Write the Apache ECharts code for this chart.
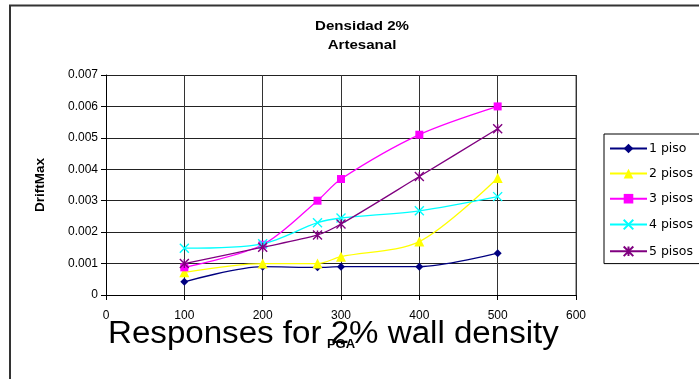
<!DOCTYPE html>
<html>
<head>
<meta charset="utf-8">
<script src="https://cdn.jsdelivr.net/npm/echarts@6/dist/echarts.min.js"></script>
<style>
  html, body { margin: 0; padding: 0; background: #fff; }
  #chart { width: 699px; height: 379px; }
</style>
</head>
<body>
<div id="chart"></div>
<script>
// PGA values on the horizontal axis
const pga = [100, 200, 270, 300, 400, 500];

// Maximum drift per number of storeys
const piso1 = [0.00042, 0.0009, 0.00088, 0.0009, 0.0009, 0.00133];
const pisos2 = [0.00072, 0.001, 0.001, 0.00122, 0.0017, 0.00372];
const pisos3 = [0.00088, 0.0016, 0.003, 0.00369, 0.0051, 0.006];
const pisos4 = [0.00149, 0.00163, 0.0023, 0.00245, 0.00268, 0.00313];
const pisos5 = [0.001, 0.00152, 0.00191, 0.00226, 0.00377, 0.00529];

const seriesNames = ['1 piso', '2 pisos', '3 pisos', '4 pisos', '5 pisos'];
const seriesValues = [piso1, pisos2, pisos3, pisos4, pisos5];
const seriesColors = ['#000080', '#FFFF00', '#FF00FF', '#00FFFF', '#800080'];

const titleLines = ['Densidad 2%', 'Artesanal'];
const captionText = 'Responses for 2% wall density';

const crossPath = 'path://M0,0L10,10M10,0L0,10';
const starPath = 'path://M0,0L10,10M10,0L0,10M5,0L5,10';
const seriesSymbols = ['diamond', 'triangle', 'rect', crossPath, starPath];
const seriesSymbolSizes = [8, 10, 8, 9, 9];

const font = 'Liberation Sans, Arial, sans-serif';

const chart = echarts.init(document.getElementById('chart'), null, { renderer: 'canvas' });

const series = seriesNames.map((name, i) => {
  const stroked = i >= 3;
  return {
    name: name,
    type: 'line',
    smooth: 0.3,
    data: pga.map((x, j) => [x, seriesValues[i][j]]),
    symbol: seriesSymbols[i],
    symbolSize: seriesSymbolSizes[i],
    showAllSymbol: true,
    lineStyle: { color: seriesColors[i], width: 1.3 },
    itemStyle: stroked
      ? { color: 'none', borderColor: seriesColors[i], borderWidth: 1.4 }
      : { color: seriesColors[i], borderColor: seriesColors[i], borderWidth: 0 },
    emphasis: { disabled: true },
    animation: false,
    z: 3 + i
  };
});

// Stretched bold text used for the two-line heading
function headingText(text, y) {
  return {
    type: 'text',
    x: 362,
    y: y,
    scaleX: 1.16,
    style: {
      text: text,
      x: 0,
      y: 0,
      align: 'center',
      verticalAlign: 'middle',
      font: 'bold 13px "Liberation Sans", Arial, sans-serif',
      fill: '#000'
    },
    silent: true
  };
}

chart.setOption({
  animation: false,
  textStyle: { fontFamily: font },
  legend: {
    orient: 'vertical',
    left: 604,
    top: 134,
    padding: [8, 20, 5, 5],
    itemWidth: 37,
    itemHeight: 12,
    itemGap: 12.1,
    borderColor: '#000',
    borderWidth: 1,
    backgroundColor: '#fff',
    textStyle: { fontSize: 12.5, lineHeight: 12, color: '#000', fontFamily: 'DejaVu Sans, sans-serif', padding: [0, 0, 0, -3] },
    data: seriesNames
  },
  grid: { left: 106, right: 123, top: 75, bottom: 84 },
  xAxis: {
    type: 'value',
    min: 0,
    max: 600,
    interval: 100,
    name: 'PGA',
    nameLocation: 'middle',
    nameGap: 43,
    nameTextStyle: { fontSize: 13, fontWeight: 'bold', color: '#000', fontFamily: font },
    axisLine: { lineStyle: { color: '#000', width: 1 } },
    axisTick: { show: true, length: 5, lineStyle: { color: '#000' } },
    axisLabel: { fontSize: 12, color: '#000', margin: 15, fontFamily: font },
    splitLine: { show: true, lineStyle: { color: '#333', width: 1 } }
  },
  yAxis: {
    type: 'value',
    min: 0,
    max: 0.007,
    interval: 0.001,
    name: 'DriftMax',
    nameLocation: 'middle',
    nameGap: 59,
    nameTextStyle: { fontSize: 13.5, fontWeight: 'bold', color: '#000', fontFamily: font },
    axisLine: { show: true, lineStyle: { color: '#000', width: 1 } },
    axisTick: { show: true, length: 5, lineStyle: { color: '#000' } },
    axisLabel: { fontSize: 12, color: '#000', margin: 8, fontFamily: font,
      formatter: v => (v === 0 ? '0' : v.toFixed(3)) },
    splitLine: { show: true, lineStyle: { color: '#222', width: 1 } }
  },
  graphic: [
    {
      type: 'polyline',
      shape: { points: [[10, 379], [10, 5.5], [699, 5.5]] },
      style: { stroke: '#333', lineWidth: 2, fill: null },
      silent: true
    },
    {
      type: 'rect',
      shape: { x: 576, y: 75, width: 0, height: 220 },
      style: { stroke: '#888', lineWidth: 1, fill: null },
      silent: true
    },
    headingText(titleLines[0], 26),
    headingText(titleLines[1], 45.5),
    {
      type: 'text',
      x: 108,
      y: 334.5,
      scaleX: 1.068,
      style: {
        text: captionText,
        x: 0,
        y: 0,
        align: 'left',
        verticalAlign: 'middle',
        font: '31px "Liberation Sans", Arial, sans-serif',
        fill: '#000'
      },
      z: 1,
      silent: true
    }
  ],
  series: series
});
</script>
</body>
</html>
